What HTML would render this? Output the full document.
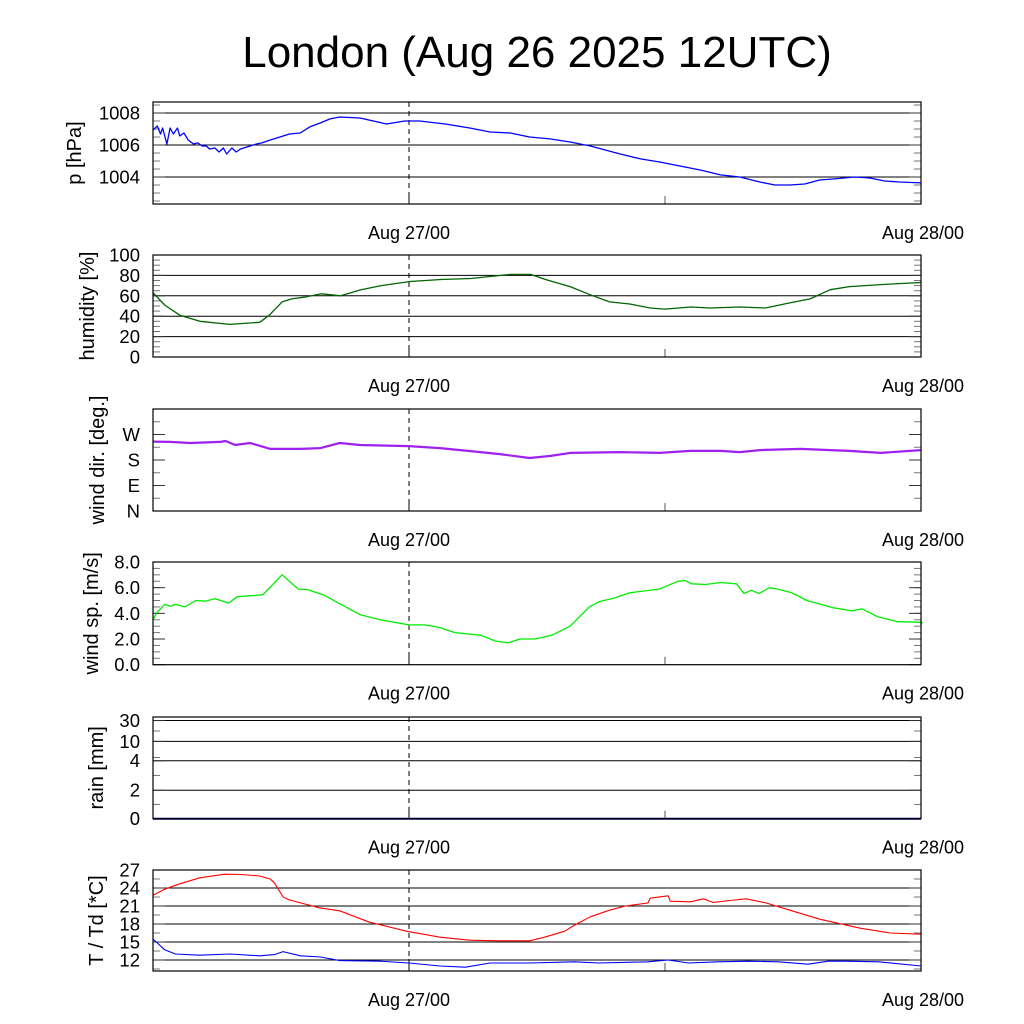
<!DOCTYPE html>
<html><head><meta charset="utf-8"><style>
body{margin:0;background:#fff}
svg{display:block;font-family:"Liberation Sans",sans-serif}
</style></head><body>
<svg id="c" width="1024" height="1024" viewBox="0 0 1024 1024" xmlns="http://www.w3.org/2000/svg">
<rect width="1024" height="1024" fill="#fff"/>
<text x="537" y="67" font-size="44" text-anchor="middle">London (Aug 26 2025 12UTC)</text>
</svg>
<script>
// time axis (hours from panel start)
const xTickHours = [24, 48, 72];
const xTickLabels = ["Aug 27/00", "", "Aug 28/00"];
// pressure
const pT = [0,0.4,0.7,0.9,1.3,1.6,1.9,2.3,2.5,2.9,3.3,3.8,4.2,4.6,5,5.3,5.8,6.2,6.6,6.9,7.4,7.8,8.2,9.1,9.7,10.2,11,11.9,12.8,13.8,14.7,15.7,16.6,17.5,19.4,21.9,23.6,25,27.4,29.7,31.6,33.5,35.3,37.2,39.1,41,43.8,45.7,47.5,49.4,51.3,53.2,55,56.9,58.3,59.7,61.1,62.5,63.9,65.8,67.2,68.6,70,72];
const pV = [1006.94,1007.19,1006.69,1007.06,1006.06,1007.06,1006.69,1007.06,1006.56,1006.75,1006.31,1006.06,1006.13,1005.94,1005.94,1005.75,1005.81,1005.56,1005.81,1005.44,1005.81,1005.56,1005.75,1005.94,1006.06,1006.13,1006.31,1006.5,1006.69,1006.75,1007.13,1007.38,1007.63,1007.75,1007.69,1007.31,1007.5,1007.5,1007.31,1007.06,1006.81,1006.75,1006.5,1006.38,1006.19,1005.94,1005.44,1005.13,1004.94,1004.69,1004.44,1004.13,1004,1003.69,1003.5,1003.5,1003.56,1003.81,1003.88,1004,1003.94,1003.75,1003.69,1003.63];
// humidity
const hT = [0,1.1,2.5,4.4,7.2,10,10.9,12.1,13,14.4,15.8,17.6,19.5,21.4,24.1,27,29.8,31.7,33.5,35.4,36.8,39.1,41,42.8,44.7,46.6,48,50.4,52.2,55,57.4,59.7,61.6,63.5,65.3,68.2,72];
const hV = [63,51,41,35,32,34,41,54,57,59,62,60,66,70,74,76,77,79,81,81,76,69,61,54,52,48,47,49,48,49,48,53,57,66,69,71,73];
// wind direction (deg)
const dT = [0,1.6,3.5,6.3,6.8,7.7,9.1,11,13.8,15.7,17.5,19.4,24,26.9,30.7,32.5,35.3,37.2,39.1,43.8,47.5,50.4,53.2,55,56.9,60.7,63.5,65.3,68.2,72];
const dV = [245,244,240,244,247,233,240,219,219,222,240,233,229,222,208,201,187,194,205,208,205,212,212,208,215,219,215,212,205,215];
// wind speed
const sT = [0,0.4,1.1,1.6,2.1,3,4,4.9,5.8,7.1,7.9,9.6,10.3,12.1,13.6,14.5,16.1,17.5,19.4,21.3,24,25.5,26.9,28.3,30.7,32.1,33.3,34.4,35.8,37.4,39.1,40.9,41.8,43.3,44.7,47.5,49.2,49.9,50.5,51.8,53.2,54.7,55.4,56.1,56.8,57.8,58.5,59.9,61.3,63.7,65.5,66.5,67.9,69.8,72.1,72];
const sV = [3.5,4.1,4.7,4.55,4.7,4.5,5.0,4.95,5.15,4.8,5.3,5.4,5.45,7.0,5.9,5.85,5.4,4.75,3.9,3.5,3.1,3.1,2.9,2.5,2.3,1.85,1.7,2.0,2.0,2.3,3.0,4.5,4.9,5.2,5.6,5.9,6.5,6.55,6.3,6.25,6.4,6.3,5.55,5.8,5.55,6.0,5.9,5.6,5.0,4.45,4.2,4.35,3.75,3.35,3.3,3.1];
// temperature & dew point
const tT = [0,1.1,2.5,4.4,6.7,8.2,10,11,11.4,12.2,12.8,15.6,17.5,20.3,24,24.1,26.9,29.7,32.5,35.3,36.7,38.6,39.6,41,42.8,44.3,46.4,46.6,48.3,48.5,50.4,51.6,52.5,54.5,55.6,57.5,59.7,62.5,66.3,69.1,72];
const tV = [22.8,23.8,24.7,25.7,26.3,26.25,26,25.5,24.8,22.5,22,20.7,20.2,18.3,16.7,16.7,15.8,15.3,15.2,15.2,15.8,16.8,17.9,19.2,20.3,21,21.5,22.3,22.7,21.8,21.7,22.2,21.6,22,22.2,21.5,20.3,18.8,17.3,16.5,16.3];
const tdT = [0,1.1,2.1,4.4,7.2,10,11.4,12.2,13.8,15.7,17.5,21.3,24,26.9,29.3,31.6,35.3,39.5,41.8,46.4,48.3,50.2,53,55.8,58.6,61.4,63.3,65.1,68,72];
const tdV = [15.5,13.7,13,12.8,13,12.7,12.9,13.4,12.7,12.5,11.9,11.8,11.5,11,10.8,11.5,11.5,11.7,11.5,11.7,12,11.5,11.7,11.8,11.7,11.3,11.8,11.8,11.7,11];
// rain
const rT = [0,72];
const rV = [0,0];

const NS="http://www.w3.org/2000/svg";
const svg=document.getElementById('c');
const X0=153,X1=921;
const xs=h=>X0+h*(X1-X0)/72;
function el(tag,attrs,parent){const e=document.createElementNS(NS,tag);for(const k in attrs)e.setAttribute(k,attrs[k]);(parent||svg).appendChild(e);return e;}
function lin(v0,v1,top,bot){return v=>bot-(v-v0)*(bot-top)/(v1-v0);}

function panel(cfg){
  const g=el('g',{});
  
  
  const {top,bot,ys}=cfg;
  cfg.grid.forEach(v=>{const y=ys(v);const l=el('line',{x1:X0,x2:X1,y1:y,y2:y,stroke:'#000','stroke-width':1},g);
    
    });
  cfg.minor.forEach(v=>{const y=ys(v);
    el('line',{x1:X0,x2:X0+7,y1:y,y2:y,stroke:'#777','stroke-width':1},g);
    el('line',{x1:X1-7,x2:X1,y1:y,y2:y,stroke:'#777','stroke-width':1},g);});
  cfg.ticks.forEach((v,i)=>{const y=ys(v);
    el('line',{x1:X0,x2:X0+12,y1:y,y2:y,stroke:'#333','stroke-width':1},g);
    el('line',{x1:X1-12,x2:X1,y1:y,y2:y,stroke:'#333','stroke-width':1},g);
    const t=el('text',{x:140,y:y+6.5,'font-size':18.5,'text-anchor':'end'},g);
    
    
    t.textContent=cfg.labels[i];});
  el('line',{x1:xs(24),x2:xs(24),y1:top,y2:bot,stroke:'#000','stroke-width':1,'stroke-dasharray':'5,4'},g);
  el('line',{x1:xs(24),x2:xs(24),y1:bot-12,y2:bot,stroke:'#000','stroke-width':1},g);
  el('line',{x1:xs(48),x2:xs(48),y1:bot-8,y2:bot,stroke:'#555','stroke-width':1},g);
  xTickHours.forEach((h,i)=>{if(!xTickLabels[i])return;
    const t=el('text',{x:xs(h)+(h===72?2:0),y:bot+35,'font-size':18,'text-anchor':'middle'},g);
    
    
    t.textContent=xTickLabels[i];});
  cfg.series.forEach(s=>{
    const d=s.t.map((h,i)=>(i?'L':'M')+xs(h).toFixed(1)+','+ys(s.v[i]).toFixed(1)).join('');
    const p=el('path',{d:d,fill:'none',stroke:s.color,'stroke-width':s.w||1.3,'stroke-linejoin':'round'},g);
    
    });
  el('rect',{x:X0,y:top,width:X1-X0,height:bot-top,fill:'none',stroke:'#000','stroke-width':1.2},g);
  const cy=(top+bot)/2;
  const tt=el('text',{x:0,y:0,'font-size':20,'text-anchor':'middle',transform:`translate(${cfg.tx||98},${cy}) rotate(-90)`},g);
  
  
  tt.textContent=cfg.title;
}
function range(a,b,s){const r=[];for(let v=a;v<=b+1e-9;v+=s)r.push(+v.toFixed(3));return r;}

panel({name:'pressure',top:102,bot:204,ys:v=>177-(v-1004)*16,grid:[1004,1006,1008],ticks:[1004,1006,1008],labels:['1004','1006','1008'],
  minor:range(1002.5,1008.5,0.5),title:'p [hPa]',tx:81,series:[{t:pT,v:pV,color:'#0000ff',name:'pressure-line'}]});
panel({name:'humidity',top:255,bot:357,ys:lin(0,100,255,357),grid:[20,40,60,80],ticks:[0,20,40,60,80,100],labels:['0','20','40','60','80','100'],
  minor:range(5,95,5),title:'humidity [%]',tx:94,series:[{t:hT,v:hV,color:'#006400',name:'humidity-line'}]});
panel({name:'wind-direction',top:409,bot:511,ys:lin(0,360,409,511),grid:[],ticks:[0,90,180,270],labels:['N','E','S','W'],
  minor:[45,135,225,315],title:'wind dir. [deg.]',tx:104,series:[{t:dT,v:dV,color:'#a020f0',name:'wind-direction-line',w:2.2}]});
panel({name:'wind-speed',top:562,bot:664.7,ys:lin(0,8,562,664.7),grid:[],ticks:[0,2,4,6,8],labels:['0.0','2.0','4.0','6.0','8.0'],
  minor:range(0.5,7.5,0.5),title:'wind sp. [m/s]',tx:98,series:[{t:sT,v:sV,color:'#00ee00',name:'wind-speed-line'}]});
const rainVals=[0,2,4,10,30,35];
const rainFrac=[0,0.28,0.57,0.76,0.965,1];
function rainY(v){for(let i=1;i<rainVals.length;i++){if(v<=rainVals[i]){const f=rainFrac[i-1]+(v-rainVals[i-1])/(rainVals[i]-rainVals[i-1])*(rainFrac[i]-rainFrac[i-1]);return 818.7-f*101.7;}}return 717;}
panel({name:'rain',top:717,bot:818.7,ys:rainY,grid:[2,4,10,30],ticks:[0,2,4,10,30],labels:['0','2','4','10','30'],
  minor:[1,3,5,20],title:'rain [mm]',tx:103,series:[{t:rT,v:rV,color:'#00008b',name:'rain-line',w:2}]});
panel({name:'temperature',top:870,bot:971,ys:v=>960-(v-12)*6,grid:[12,15,18,21,24,27],ticks:[12,15,18,21,24,27],labels:['12','15','18','21','24','27'],
  minor:range(10.5,25.5,1.5),title:'T / Td [*C]',tx:103,series:[{t:tT,v:tV,color:'#ff0000',name:'temperature-line',w:1.1},{t:tdT,v:tdV,color:'#0000ff',name:'dewpoint-line',w:1.1}]});
</script>
</body></html>
